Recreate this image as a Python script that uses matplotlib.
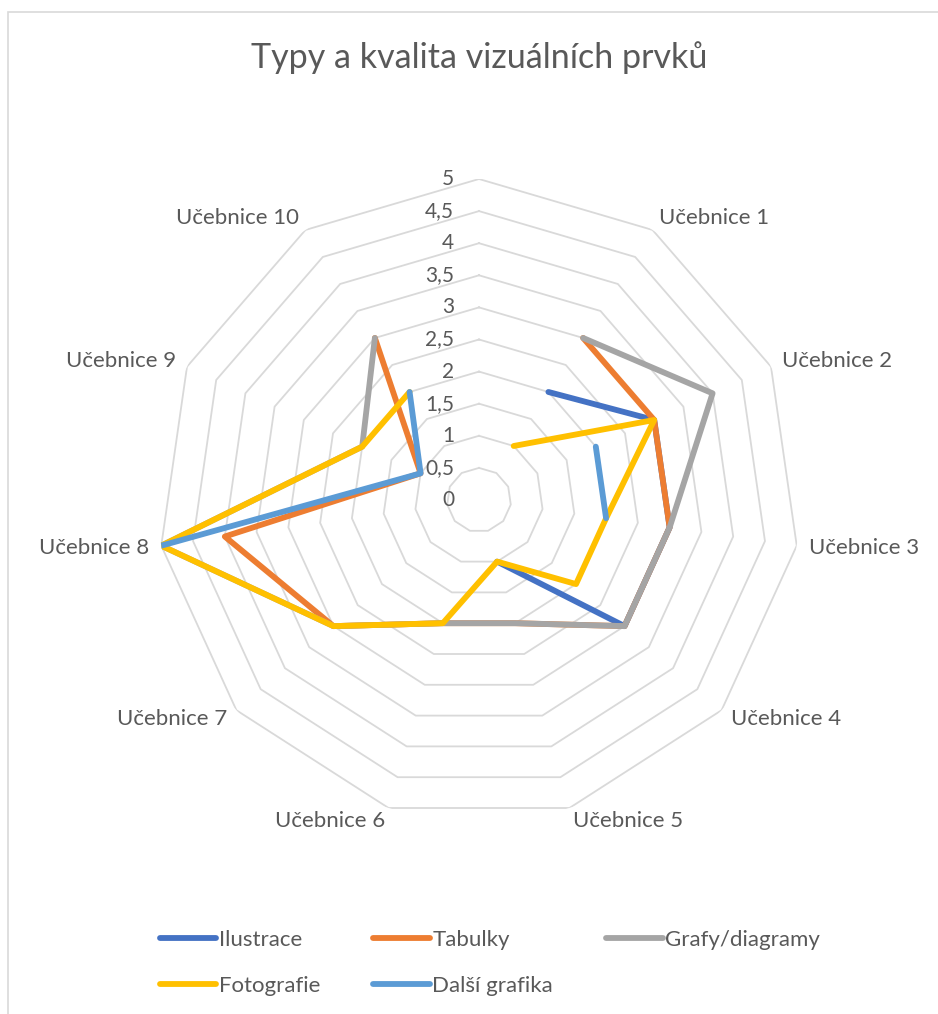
import numpy as np
import matplotlib.pyplot as plt
from matplotlib.patches import Rectangle

# DATA
# first category sits at the top of the radar and is blank in the source
categories = ['', 'Učebnice 1', 'Učebnice 2', 'Učebnice 3', 'Učebnice 4', 'Učebnice 5',
              'Učebnice 6', 'Učebnice 7', 'Učebnice 8', 'Učebnice 9', 'Učebnice 10']
nan = np.nan
ilustrace = [nan, 2, 3, 3, 3, 1, nan, nan, nan, nan, nan]
tabulky = [nan, 3, 3, 3, 3, 2, 2, 3, 4, 1, 3]
grafy = [nan, 3, 4, 3, 3, 2, 2, 3, 5, 2, 3]
fotografie = [nan, 1, 3, 2, 2, 1, 2, 3, 5, 2, 2]
dalsi = [nan, nan, 2, 2, nan, nan, nan, nan, 5, 1, 2]
series_names = ['Ilustrace', 'Tabulky', 'Grafy/diagramy', 'Fotografie', 'Další grafika']
ring_values = [0.5, 1, 1.5, 2, 2.5, 3, 3.5, 4, 4.5, 5]
tick_labels = ['0', '0,5', '1', '1,5', '2', '2,5', '3', '3,5', '4', '4,5', '5']

# STYLE
colors = ['#4472C4', '#ED7D31', '#A5A5A5', '#FFC000', '#5B9BD5']
text_color = '#595959'
grid_color = '#D9D9D9'
plt.rcParams['font.family'] = ['Lato', 'DejaVu Sans']

W, H = 938, 1014
fig = plt.figure(figsize=(W / 100, H / 100), dpi=100)

# chart border (only left and top edges are inside the picture)
fig.patches.append(Rectangle((8 / W, -0.1), 1.2, 1 - 12 / H + 0.1, transform=fig.transFigure,
                             fill=False, edgecolor='#D9D9D9', lw=1.2))

# polar axes placed so the centre is at (479, 500) px and radius 5 = 321 px
cx, cy, rad = 479, 500, 321
ax = fig.add_axes([(cx - rad) / W, 1 - (cy + rad) / H, 2 * rad / W, 2 * rad / H], projection='polar')
ax.set_theta_zero_location('N')
ax.set_theta_direction(-1)
ax.set_ylim(0, 5)
ax.grid(False)
ax.set_xticks([])
ax.set_yticks([])
ax.spines['polar'].set_visible(False)
ax.patch.set_alpha(0)

n = len(categories)
theta = np.arange(n) * 2 * np.pi / n
theta_closed = np.append(theta, theta[0])

# polygon rings
for r in ring_values:
    ax.plot(theta_closed, [r] * (n + 1), color=grid_color, lw=1.3, zorder=1)

# series
all_series = [ilustrace, tabulky, grafy, fotografie, dalsi]
handles = []
for name, vals, c in zip(series_names, all_series, colors):
    ln, = ax.plot(theta, vals, color=c, lw=4.2, label=name, zorder=3,
                  solid_capstyle='round', solid_joinstyle='round')
    handles.append(ln)

# value labels along the top axis
for i, lbl in enumerate(tick_labels):
    ax.annotate(lbl, xy=(0, i * 0.5), xytext=(-25, 0), textcoords='offset pixels',
                ha='right', va='center', fontsize=15, color=text_color, zorder=4)

# category labels
for t, lbl in zip(theta, categories):
    if not lbl:
        continue
    s, c = np.sin(t), np.cos(t)
    ha = 'left' if s > 0.01 else 'right'
    dx = 12 * abs(s) * (1 if s > 0 else -1)
    dy = 14 * c
    ax.annotate(lbl, xy=(t, 5), xytext=(dx, dy), textcoords='offset pixels',
                ha=ha, va='center', fontsize=16, color=text_color, annotation_clip=False)

fig.text(479 / W, 1 - 58 / H, 'Typy a kvalita vizuálních prvků', ha='center', va='center',
         fontsize=24.5, color=text_color)

# legend laid out row by row like the original
order = [0, 3, 1, 4, 2]
leg = fig.legend([handles[i] for i in order], [series_names[i] for i in order],
                 loc='center', bbox_to_anchor=(490 / W, 1 - 963 / H), ncol=3, frameon=False,
                 fontsize=16, handlelength=2.55, handletextpad=0.1, columnspacing=2.4,
                 labelspacing=1.15)
for t in leg.get_texts():
    t.set_color(text_color)

fig.savefig('out.png', dpi=100)
